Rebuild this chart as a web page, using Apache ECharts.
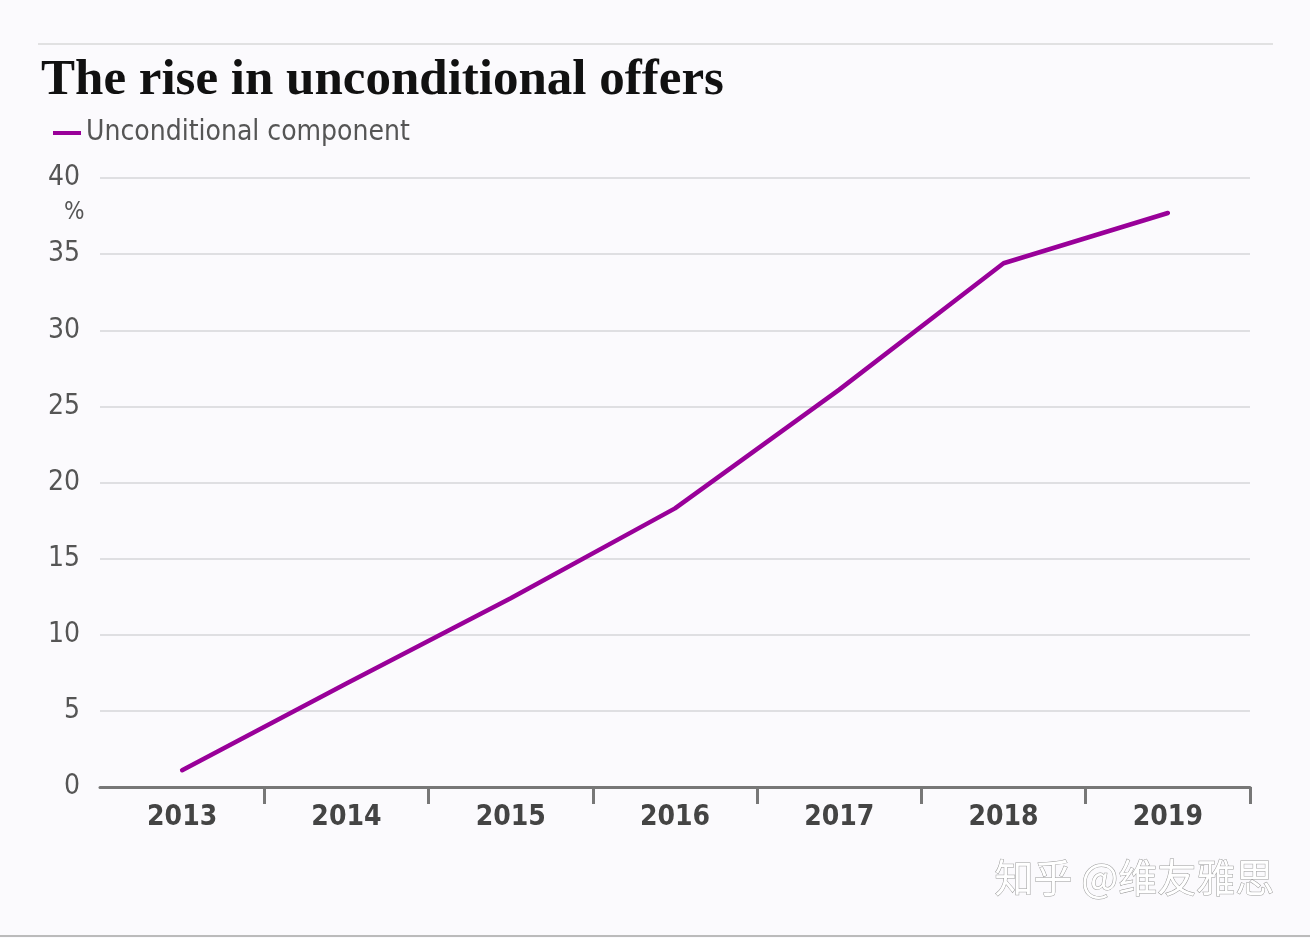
<!DOCTYPE html>
<html><head><meta charset="utf-8">
<script src="https://cdn.jsdelivr.net/npm/echarts@6/dist/echarts.min.js"></script>
<style>html,body{margin:0;padding:0;background:#fbfafd;}#c{width:1310px;height:938px;}</style>
</head><body><div id="c"></div>
<script>
const categories = ['2013','2014','2015','2016','2017','2018','2019'];
const unconditional = [1.1, 6.8, 12.4, 18.3, 26.1, 34.4, 37.7];
const yTicks = [0, 5, 10, 15, 20, 25, 30, 35, 40];

const narrow = '"Liberation Sans Narrow", "DejaVu Sans Condensed", "Roboto Condensed", sans-serif';
const chart = echarts.init(document.getElementById('c'));
chart.setOption({
  backgroundColor: '#fbfafd',
  animation: false,
  title: {
    text: 'The rise in unconditional offers',
    left: 36, top: 50,
    textStyle: { fontFamily: '"Liberation Serif", "DejaVu Serif", serif', fontWeight: 'bold', fontSize: 51, color: '#111' }
  },
  legend: {
    left: 48, top: 114,
    icon: 'rect', itemWidth: 28, itemHeight: 4, itemGap: 10,
    textStyle: { fontFamily: narrow, fontSize: 28, color: '#555' },
    data: ['Unconditional component']
  },
  grid: { left: 100, right: 60, top: 178, bottom: 151, containLabel: false },
  xAxis: {
    type: 'category', data: categories, boundaryGap: true,
    axisLine: { lineStyle: { color: '#777', width: 3 } },
    axisTick: { show: true, length: 17, inside: false, lineStyle: { color: '#777', width: 3 },
      interval: function (i) { return i !== 0; } },
    axisLabel: { fontFamily: narrow, fontWeight: 'bold', fontSize: 28, color: '#444', margin: 17 },
    splitLine: { show: false }
  },
  yAxis: {
    type: 'value', min: yTicks[0], max: yTicks[yTicks.length-1], interval: 5,
    axisLine: { show: false }, axisTick: { show: false },
    axisLabel: { fontFamily: narrow, fontSize: 28, color: '#555', margin: 20, verticalAlign: 'middle', padding: [8, 0, 0, 0] },
    splitLine: { lineStyle: { color: '#d6d6d9', width: 1.5 } }
  },
  series: [{
    name: 'Unconditional component', type: 'line', data: unconditional,
    symbol: 'none', itemStyle: { color: '#990099' },
    lineStyle: { color: '#990099', width: 4.5, cap: 'round' }
  }],
  graphic: [
    { type: 'line', shape: { x1: 38, y1: 44, x2: 1273, y2: 44 }, style: { stroke: '#d8d8d8', lineWidth: 1.5 } },
    { type: 'line', shape: { x1: 0, y1: 936, x2: 1310, y2: 936 }, style: { stroke: '#bbb', lineWidth: 2 } },
    { type: 'text', left: 64, top: 201, style: { text: '%', fontFamily: narrow, fontSize: 24, fill: '#555' } },
    { type: 'text', left: 994, top: 857, style: { text: '知乎 @维友雅思', fontFamily: '"Noto Sans CJK SC", sans-serif', fontSize: 39, fill: '#ffffff', stroke: '#9a9a9a', lineWidth: 1 } }
  ]
});
</script></body></html>
